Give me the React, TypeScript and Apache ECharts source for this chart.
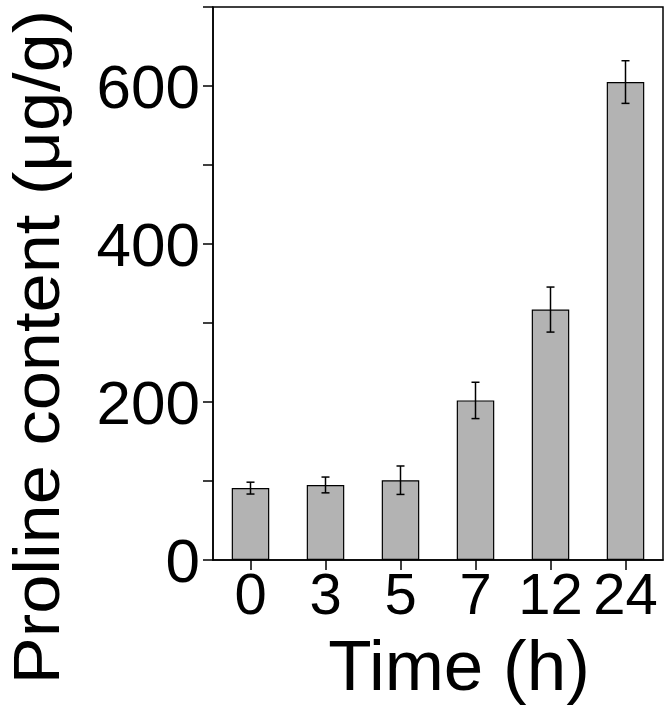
import React, { useEffect, useRef } from "react";
import * as echarts from "echarts";

const categories = ["0", "3", "5", "7", "12", "24"];
const prolineMeans = [91, 95, 101, 202, 317, 605];
const prolineErrors = [7.5, 10, 18, 23, 28.5, 27];
const yTicks = [0, 100, 200, 300, 400, 500, 600, 700];

const FONT = "'Liberation Sans', Arial, sans-serif";

export default function App() {
  const ref = useRef<HTMLDivElement>(null);

  useEffect(() => {
    if (!ref.current) return;
    const chart = echarts.init(ref.current, undefined, { renderer: "svg" });
    const errData = categories.map((c, i) => [i, prolineMeans[i], prolineErrors[i]]);
    chart.setOption({
      animation: false,
      grid: {
        left: 213,
        right: 7,
        top: 7,
        bottom: 150,
        show: true,
        borderColor: "#000",
        borderWidth: 1.5,
        backgroundColor: "transparent",
      },
      xAxis: {
        type: "category",
        data: categories,
        boundaryGap: true,
        axisLine: { show: true, lineStyle: { color: "#000", width: 1.5 } },
        axisTick: { show: true, alignWithLabel: true, length: 10, lineStyle: { color: "#000", width: 1.5 } },
        axisLabel: { color: "#000", fontSize: 58, fontFamily: FONT, margin: 4, interval: 0, hideOverlap: false },
        splitLine: { show: false },
      },
      yAxis: {
        type: "value",
        min: yTicks[0],
        max: yTicks[yTicks.length - 1],
        interval: 100,
        axisLine: { show: true, lineStyle: { color: "#000", width: 1.5 } },
        axisTick: { show: true, length: 10, lineStyle: { color: "#000", width: 1.5 } },
        axisLabel: {
          color: "#000",
          fontSize: 62,
          fontFamily: FONT,
          margin: 13,
          formatter: (v: number) => (v % 200 === 0 && v < 700 ? String(v) : ""),
        },
        splitLine: { show: false },
      },
      graphic: [
        {
          type: "text",
          x: 37,
          y: 347,
          rotation: Math.PI / 2,
          scaleX: 1.1,
          style: {
            text: "Proline content (μg/g)",
            fontSize: 64,
            lineHeight: 64,
            fontFamily: FONT,
            fill: "#000",
            align: "center",
            verticalAlign: "middle",
          },
        },
        {
          type: "text",
          x: 459,
          y: 665,
          style: {
            text: "Time (h)",
            fontSize: 71,
            fontFamily: FONT,
            fill: "#000",
            align: "center",
            verticalAlign: "middle",
          },
        },
      ],
      series: [
        {
          type: "bar",
          data: prolineMeans,
          barWidth: "50%",
          itemStyle: { color: "#b3b3b3", borderColor: "#000", borderWidth: 1.2 },
          z: 2,
        },
        {
          type: "custom",
          data: errData,
          z: 5,
          renderItem: (params: any, api: any) => {
            const idx = api.value(0);
            const mean = api.value(1);
            const err = api.value(2);
            const top = api.coord([idx, mean + err]);
            const bot = api.coord([idx, mean - err]);
            const hw = 4;
            const st = { stroke: "#000", lineWidth: 1.5 };
            return {
              type: "group",
              children: [
                { type: "line", shape: { x1: top[0], y1: top[1], x2: bot[0], y2: bot[1] }, style: st },
                { type: "line", shape: { x1: top[0] - hw, y1: top[1], x2: top[0] + hw, y2: top[1] }, style: st },
                { type: "line", shape: { x1: bot[0] - hw, y1: bot[1], x2: bot[0] + hw, y2: bot[1] }, style: st },
              ],
            };
          },
        },
      ],
    });
    return () => chart.dispose();
  }, []);

  return (
    <div
      ref={ref}
      style={{ position: "fixed", left: 0, top: 0, width: 670, height: 710, background: "#fff" }}
    />
  );
}
